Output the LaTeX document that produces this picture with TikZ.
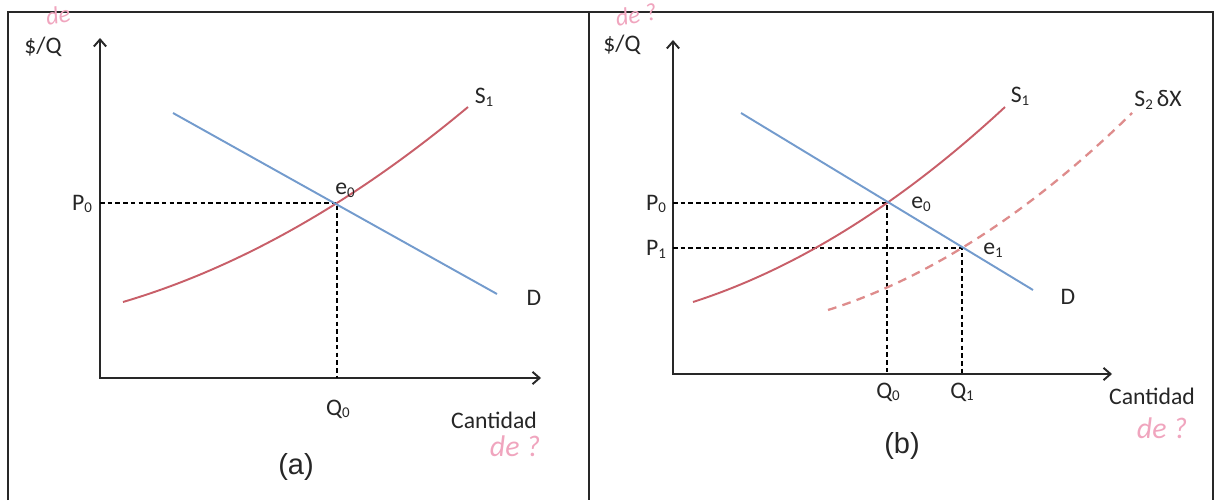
\documentclass[tikz,border=0pt]{standalone}
\usepackage{fontspec}
\setmainfont{Carlito}
\newfontfamily\arialf{Liberation Sans}
\usetikzlibrary{arrows.meta}
\newcommand\lsub[1]{\raisebox{-0.25ex}{\fontsize{8.5}{8.5}\selectfont #1}}
\definecolor{supred}{RGB}{200,95,105}
\definecolor{supred2}{RGB}{222,140,140}
\definecolor{demblue}{RGB}{115,155,205}
\definecolor{framecol}{RGB}{40,40,40}
\definecolor{hand}{RGB}{240,165,190}
\tikzset{
  frameline/.style={draw=framecol,line width=0.9pt},
  axisline/.style={draw=framecol,line width=1.1pt,{Straight Barb[length=4pt,width=7pt]}-{Straight Barb[length=4pt,width=7pt]}},
  guide/.style={draw=black,line width=0.65pt,dash pattern=on 2.6pt off 1.8pt},
  supcurve/.style={draw=supred,line width=1.1pt},
  supcurvetwo/.style={draw=supred2,line width=1.3pt,dash pattern=on 5pt off 3.6pt},
  demline/.style={draw=demblue,line width=1.1pt},
  lbl/.style={font=\fontsize{13.5}{14}\selectfont,text=black!85,inner sep=0pt},
  captext/.style={font=\arialf\fontsize{16.5}{18}\selectfont,text=black!85,inner sep=0pt},
  scrib/.style={font=\itshape\fontsize{17}{17}\selectfont,text=hand,inner sep=0pt},
  scribsmall/.style={font=\itshape\fontsize{14}{14}\selectfont,text=hand,inner sep=0pt}
}
\begin{document}
\begin{tikzpicture}[x=0.02cm,y=-0.02cm]
\useasboundingbox (0,0) rectangle (1216,500);
% frames
\coordinate (F1) at (8,500);
\coordinate (F2) at (8,12);
\coordinate (F3) at (1213,12);
\coordinate (F4) at (1213,500);
\coordinate (F5) at (589,12);
\coordinate (F6) at (589,500);
\draw[frameline] (F1) -- (F2) -- (F3) -- (F4);
\draw[frameline] (F5) -- (F6);

% ---------- panel (a) ----------
\coordinate (Ao) at (100,378);
\coordinate (Ay) at (100,38);
\coordinate (Ax) at (541,378);
\draw[axisline] (Ay) -- (Ao) -- (Ax);
\coordinate (Ae0) at (337,203);
\draw[guide] (Ae0 -| Ao) -- (Ae0) -- (Ae0 |- Ao);
\coordinate (AS1a) at (123,302);
\coordinate (AS1b) at (468,107);
\draw[supcurve] (AS1a) .. controls (238,268) and (353,203) .. (AS1b);
\coordinate (ADa) at (173,113);
\coordinate (ADb) at (497,294);
\draw[demline] (ADa) -- (ADb);
\node[lbl] (AyL) at (43,47) {\$/Q};
\node[lbl] (AP0) at (82,204) {P\lsub{0}};
\node[lbl] (AQ0) at (338,409) {Q\lsub{0}};
\node[lbl] (AxL) at (494,420) {Cantidad};
\node[lbl] (Ae0L) at (345,190) {e\lsub{0}};
\node[lbl] (AS1L) at (484,97) {S\lsub{1}};
\node[lbl] (ADL) at (534,298) {D};
\node[captext] (Acap) at (296,467) {(a)};
\node[scrib] (Ah1) at (515,446) {de ?};
\node[scribsmall,rotate=10] (Ah2) at (58,15) {de};

% ---------- panel (b) ----------
\coordinate (Bo) at (673,374);
\coordinate (By) at (673,40);
\coordinate (Bx) at (1112,374);
\draw[axisline] (By) -- (Bo) -- (Bx);
\coordinate (Be0) at (887,203);
\coordinate (Be1) at (962,248);
\draw[guide] (Be0 -| Bo) -- (Be0) -- (Be0 |- Bo);
\draw[guide] (Be1 -| Bo) -- (Be1) -- (Be1 |- Bo);
\coordinate (BS1a) at (693,302);
\coordinate (BS1b) at (1005,107);
\draw[supcurve] (BS1a) .. controls (797,268.5) and (901,203.5) .. (BS1b);
\coordinate (BS2a) at (828,310);
\coordinate (BS2b) at (1132,113);
\draw[supcurvetwo] (BS2a) .. controls (929,278) and (1031,212) .. (BS2b);
\coordinate (BDa) at (741,113);
\coordinate (BDb) at (1033,290);
\draw[demline] (BDa) -- (BDb);
\node[lbl] (ByL) at (622,45) {\$/Q};
\node[lbl] (BP0) at (656,204) {P\lsub{0}};
\node[lbl] (BP1) at (656,249) {P\lsub{1}};
\node[lbl] (BQ0) at (888,392) {Q\lsub{0}};
\node[lbl] (BQ1) at (962,392) {Q\lsub{1}};
\node[lbl] (BxL) at (1152,396) {Cantidad};
\node[lbl] (Be0L) at (921,204) {e\lsub{0}};
\node[lbl] (Be1L) at (993,250) {e\lsub{1}};
\node[lbl] (BS1L) at (1020,96) {S\lsub{1}};
\node[lbl] (BS2L) at (1158,100) {S\lsub{2}\,δX};
\node[lbl] (BDL) at (1068,297) {D};
\node[captext] (Bcap) at (902,446) {(b)};
\node[scrib] (Bh1) at (1162,428) {de ?};
\node[scribsmall,rotate=10] (Bh2) at (636,15) {de ?};
\end{tikzpicture}
\end{document}
